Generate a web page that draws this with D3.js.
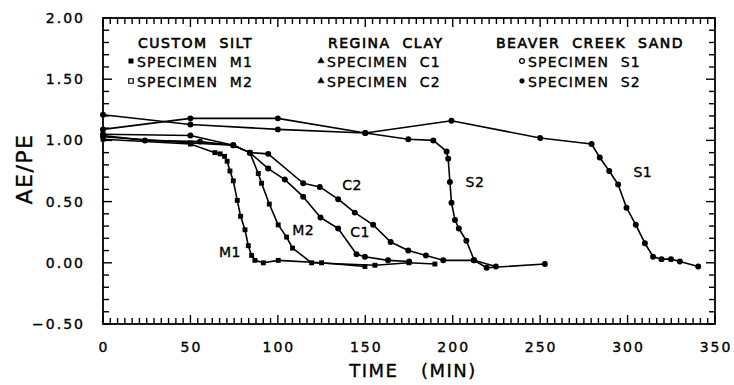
<!DOCTYPE html>
<html><head><meta charset="utf-8">
<script src="https://cdn.jsdelivr.net/npm/d3@7"></script>
<style>
html,body{margin:0;padding:0;background:#fff;}
text{font-family:"DejaVu Sans",sans-serif;fill:#000;stroke:#000;stroke-width:0.35px;}
</style></head>
<body><svg id="c" width="734" height="385"></svg>
<script>
// ---- data (time in minutes, AE/PE ratio) ----
const m1Time  = [0, 50, 64, 67, 69.5, 71, 72.6, 74.5, 76.8, 78.7, 81.2, 83.1, 85, 86.9, 91.7, 100.2, 125, 149.8];
const m1Ratio = [1.01, 0.97, 0.90, 0.89, 0.87, 0.83, 0.75, 0.67, 0.51, 0.38, 0.27, 0.14, 0.06, 0.02, 0.00, 0.02, 0.00, -0.03];
const m2Time  = [0, 50, 74.5, 84, 88.8, 90.7, 95.1, 100.2, 105, 108.4, 119.3, 155.5, 175, 189.8];
const m2Ratio = [1.03, 0.98, 0.96, 0.90, 0.73, 0.65, 0.48, 0.31, 0.21, 0.12, 0.00, -0.02, 0.00, -0.01];
const c1Time  = [0, 50, 74.5, 84, 94.5, 104, 114.5, 124.4, 134.5, 145, 149.8, 163, 175.1];
const c1Ratio = [1.05, 1.04, 0.96, 0.90, 0.77, 0.68, 0.54, 0.37, 0.28, 0.07, 0.05, 0.02, 0.01];
const c2Time  = [0, 24, 55.5, 74.5, 84, 94.5, 114.5, 124, 134.5, 144, 154.5, 164.5, 174.6, 184.7, 194.6, 212, 224.7];
const c2Ratio = [1.04, 1.00, 0.99, 0.96, 0.90, 0.89, 0.65, 0.62, 0.52, 0.41, 0.31, 0.17, 0.10, 0.06, 0.02, 0.02, -0.03];
const s1Time  = [0, 50, 100, 150, 199.3, 250, 279.4, 284.1, 289.5, 294.6, 299.4, 304.7, 309.9, 314.6, 319.4, 324.8, 329.9, 340.4];
const s1Ratio = [1.09, 1.18, 1.18, 1.06, 1.16, 1.02, 0.97, 0.86, 0.75, 0.64, 0.45, 0.31, 0.16, 0.05, 0.03, 0.03, 0.01, -0.03];
const s2Time  = [0, 50, 100, 150, 174.6, 188.9, 196.5, 197.4, 198.4, 199.3, 201.3, 203.5, 207.8, 212.3, 219.4, 252.7];
const s2Ratio = [1.21, 1.13, 1.09, 1.06, 1.01, 1.00, 0.91, 0.85, 0.66, 0.49, 0.35, 0.28, 0.18, 0.02, -0.04, -0.01];

const xTickValues = [0, 50, 100, 150, 200, 250, 300, 350];
const xTickLabels = ["0", "50", "100", "150", "200", "250", "300", "350"];
const yTickValues = [-0.5, 0, 0.5, 1, 1.5, 2];
const yTickLabels = ["\u22120.50", "0.00", "0.50", "1.00", "1.50", "2.00"];
const groupTitles = ["CUSTOM SILT", "REGINA CLAY", "BEAVER CREEK SAND"];
const specimenNames = ["SPECIMEN M1", "SPECIMEN M2", "SPECIMEN C1", "SPECIMEN C2", "SPECIMEN S1", "SPECIMEN S2"];
const curveNames = ["M1", "M2", "C1", "C2", "S1", "S2"];
const xTitle = "TIME  (MIN)";
const yTitle = "AE/PE";

// ---- layout ----
const L = 103, R = 715, T = 18, B = 324;
const svg = d3.select("#c");
const x = d3.scaleLinear().domain([0, 350]).range([L, R]);
const y = d3.scaleLinear().domain([-0.5, 2]).range([B, T]);

const series = [
  {name: curveNames[0], t: m1Time, v: m1Ratio, sym: "square", lt: 72.6, lv: 0.09},
  {name: curveNames[1], t: m2Time, v: m2Ratio, sym: "square", lt: 114.5, lv: 0.27},
  {name: curveNames[2], t: c1Time, v: c1Ratio, sym: "circle", lt: 147, lv: 0.25},
  {name: curveNames[3], t: c2Time, v: c2Ratio, sym: "circle", lt: 142.4, lv: 0.64},
  {name: curveNames[4], t: s1Time, v: s1Ratio, sym: "circle", lt: 308.7, lv: 0.74},
  {name: curveNames[5], t: s2Time, v: s2Ratio, sym: "circle", lt: 212.7, lv: 0.66}
];

// ---- frame ----
svg.append("rect").attr("x", L).attr("y", T).attr("width", R - L).attr("height", B - T)
  .attr("fill", "none").attr("stroke", "#000").attr("stroke-width", 1.8);

// ---- ticks (inward, mirrored on all sides): one path per tick, same way as the data lines ----
const xMinorTicks = d3.range(0, 85).map(i => i * 50 / 12);
const yMinorTicks = d3.range(0, 26).map(i => -0.5 + i * 0.1);
const tickLine = d3.line();
const tickG = svg.append("g");
xMinorTicks.forEach((v, i) => {
  const len = (i % 12 === 0) ? 9 : 6;
  tickG.append("path").attr("d", tickLine([[x(v), B], [x(v), B - len]]))
    .attr("fill", "none").attr("stroke", "#000").attr("stroke-width", 1.4);
  tickG.append("path").attr("d", tickLine([[x(v), T], [x(v), T + len]]))
    .attr("fill", "none").attr("stroke", "#000").attr("stroke-width", 1.4);
});
yMinorTicks.forEach((v, i) => {
  const len = (i % 5 === 0) ? 9 : 6;
  tickG.append("path").attr("d", tickLine([[L, y(v)], [L + len, y(v)]]))
    .attr("fill", "none").attr("stroke", "#000").attr("stroke-width", 1.4);
  tickG.append("path").attr("d", tickLine([[R, y(v)], [R - len, y(v)]]))
    .attr("fill", "none").attr("stroke", "#000").attr("stroke-width", 1.4);
});

const line = d3.line().x(d => x(d[0])).y(d => y(d[1]));
const g = svg.append("g");
series.forEach(s => {
  const pts = s.t.map((t, i) => [t, s.v[i]]);
  g.append("path").attr("d", line(pts)).attr("fill", "none")
    .attr("stroke", "#000").attr("stroke-width", 1.6).attr("stroke-linejoin", "round");
  const sym = d3.symbol().type(s.sym === "square" ? d3.symbolSquare : d3.symbolCircle).size(s.sym === "square" ? 24 : 28);
  g.selectAll(null).data(pts).enter().append("path")
    .attr("d", sym).attr("transform", d => `translate(${x(d[0])},${y(d[1])})`)
    .attr("fill", "#000");
  g.append("text").attr("x", x(s.lt)).attr("y", y(s.lv)).attr("dy", "0.36em")
    .attr("text-anchor", "middle").attr("font-size", 14).attr("letter-spacing", 0.5).text(s.name);
});

// tick labels
xTickValues.forEach((v, i) => {
  svg.append("text").attr("x", x(v) + 1).attr("y", 352).attr("text-anchor", "middle")
    .attr("font-size", 14).attr("letter-spacing", 2).text(xTickLabels[i]);
});
yTickValues.forEach((v, i) => {
  svg.append("text").attr("x", 85).attr("y", y(v)).attr("dy", "0.36em").attr("text-anchor", "end")
    .attr("font-size", 14).attr("letter-spacing", 2).text(yTickLabels[i]);
});

// axis titles
svg.append("text").attr("x", 413).attr("y", 377).attr("text-anchor", "middle")
  .attr("font-size", 18).attr("letter-spacing", 1.5).attr("word-spacing", 4)
  .style("white-space", "pre").text(xTitle);
svg.append("text").attr("transform", "translate(32,169) rotate(-90)").attr("text-anchor", "middle")
  .attr("font-size", 22).attr("letter-spacing", 1.5).text(yTitle);

// ---- legend ----
const legX = [138, 328, 496];
const legSym = [["square-fill", "square-open"], ["tri", "tri"], ["circle-open", "circle-fill"]];
groupTitles.forEach((t, gi) => {
  svg.append("text").attr("x", legX[gi]).attr("y", 48).attr("font-size", 14)
    .attr("letter-spacing", 1.5).attr("word-spacing", 6).style("white-space", "pre")
    .style("stroke-width", "0.6px").text(t);
  for (let k = 0; k < 2; k++) {
    const yy = 62 + k * 20;
    const tx = gi === 2 ? 528 : legX[gi] - 1;
    const sx = tx - 6;
    const type = legSym[gi][k];
    let p;
    if (type.startsWith("square")) p = d3.symbol().type(d3.symbolSquare).size(20);
    else if (type === "tri") p = d3.symbol().type(d3.symbolTriangle).size(18);
    else p = d3.symbol().type(d3.symbolCircle).size(18);
    const open = type.endsWith("open");
    svg.append("path").attr("d", p).attr("transform", `translate(${sx},${yy - 1})`)
      .attr("fill", open ? "#fff" : "#000").attr("stroke", "#000").attr("stroke-width", open ? 1.2 : 0.5);
    svg.append("text").attr("x", tx).attr("y", yy).attr("dy", "0.36em").attr("font-size", 14)
      .attr("letter-spacing", 1.2).attr("word-spacing", 6).style("white-space", "pre")
      .text(specimenNames[gi * 2 + k]);
  }
});
</script></body></html>
